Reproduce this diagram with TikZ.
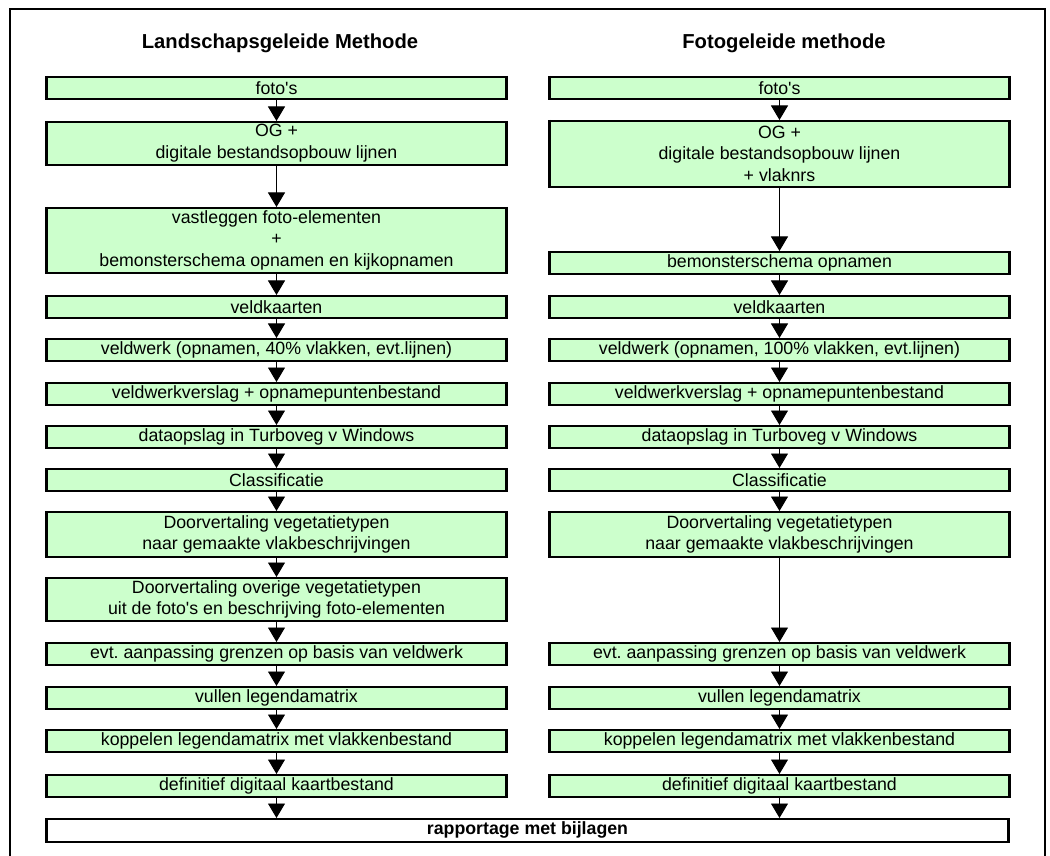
\documentclass[tikz,border=0pt]{standalone}
\usepackage{fontspec}
\setmainfont{Liberation Sans}[Ligatures=TeXOff]
\usepackage{xcolor}
\usetikzlibrary{arrows.meta}
\definecolor{lichtgroen}{HTML}{CCFFCC}
\frenchspacing

\tikzset{
  stap/.style={draw, fill=lichtgroen, line width=0.9pt, minimum width=9.16cm,
    minimum height=0.44cm, inner sep=0.5pt, align=center, anchor=north,
    font=\fontsize{10.1}{12.2}\selectfont},
  pijl/.style={line width=0.55pt, -{Triangle[width=0.34cm,length=0.29cm]}},
  kop/.style={font=\fontsize{11.5}{13}\selectfont\bfseries}
}

\begin{document}
\begin{tikzpicture}
    \useasboundingbox (0,0) rectangle (21,-17.12);

    % Draw the frame
    \draw[line width=1.1pt] (0.2,-17.5) -- (0.2,-0.18) -- (20.9,-0.18) -- (20.9,-17.5);

    % Add the titles
    \node[kop] (tl) at (5.6,-0.86) {Landschapsgeleide Methode};
    \node[kop] (tr) at (15.68,-0.86) {Fotogeleide methode};

    % Left column
    \node[stap] (l1) at (5.53,-1.52) {foto's};
    \node[stap, minimum height=0.86cm] (l2) at (5.53,-2.42) {OG +\\digitale bestandsopbouw lijnen};
    \node[stap, minimum height=1.30cm] (l3) at (5.53,-4.14) {vastleggen foto-elementen\\+\\bemonsterschema opnamen en kijkopnamen};
    \node[stap] (l4) at (5.53,-5.90) {veldkaarten};
    \node[stap] (l5) at (5.53,-6.76) {veldwerk (opnamen, 40\% vlakken, evt.lijnen)};
    \node[stap] (l6) at (5.53,-7.64) {veldwerkverslag + opnamepuntenbestand};
    \node[stap] (l7) at (5.53,-8.50) {dataopslag in Turboveg v Windows};
    \node[stap] (l8) at (5.53,-9.36) {Classificatie};
    \node[stap, minimum height=0.90cm] (l9) at (5.53,-10.22) {Doorvertaling vegetatietypen\\naar gemaakte vlakbeschrijvingen};
    \node[stap, minimum height=0.86cm] (l10) at (5.53,-11.54) {Doorvertaling overige vegetatietypen\\uit de foto's en beschrijving foto-elementen};
    \node[stap] (l11) at (5.53,-12.84) {evt. aanpassing grenzen op basis van veldwerk};
    \node[stap] (l12) at (5.53,-13.72) {vullen legendamatrix};
    \node[stap] (l13) at (5.53,-14.58) {koppelen legendamatrix met vlakkenbestand};
    \node[stap] (l14) at (5.53,-15.48) {definitief digitaal kaartbestand};

    % Right column
    \node[stap] (r1) at (15.59,-1.52) {foto's};
    \node[stap, minimum height=1.32cm] (r2) at (15.59,-2.40) {OG +\\digitale bestandsopbouw lijnen\\+ vlaknrs};
    \node[stap] (r3) at (15.59,-5.02) {bemonsterschema opnamen};
    \node[stap] (r4) at (15.59,-5.90) {veldkaarten};
    \node[stap] (r5) at (15.59,-6.76) {veldwerk (opnamen, 100\% vlakken, evt.lijnen)};
    \node[stap] (r6) at (15.59,-7.64) {veldwerkverslag + opnamepuntenbestand};
    \node[stap] (r7) at (15.59,-8.50) {dataopslag in Turboveg v Windows};
    \node[stap] (r8) at (15.59,-9.36) {Classificatie};
    \node[stap, minimum height=0.90cm] (r9) at (15.59,-10.22) {Doorvertaling vegetatietypen\\naar gemaakte vlakbeschrijvingen};
    \node[stap] (r11) at (15.59,-12.84) {evt. aanpassing grenzen op basis van veldwerk};
    \node[stap] (r12) at (15.59,-13.72) {vullen legendamatrix};
    \node[stap] (r13) at (15.59,-14.58) {koppelen legendamatrix met vlakkenbestand};
    \node[stap] (r14) at (15.59,-15.48) {definitief digitaal kaartbestand};

    % Final box
    \node[stap, fill=white, minimum width=19.22cm, minimum height=0.46cm,
      font=\fontsize{10.1}{12.2}\selectfont\bfseries] (eind) at (10.55,-16.36) {rapportage met bijlagen};

    % Thicker sides of the boxes
    \foreach \n in {l1,l2,l3,l4,l5,l6,l7,l8,l9,l10,l11,l12,l13,l14,
                    r1,r2,r3,r4,r5,r6,r7,r8,r9,r11,r12,r13,r14,eind} {
      \draw[line width=1.5pt] (\n.north west) -- (\n.south west);
      \draw[line width=1.5pt] (\n.north east) -- (\n.south east);
    }

    % Draw arrows
    \foreach \a/\b in {l1/l2,l2/l3,l3/l4,l4/l5,l5/l6,l6/l7,l7/l8,l8/l9,l9/l10,
                       l10/l11,l11/l12,l12/l13,l13/l14,
                       r1/r2,r2/r3,r3/r4,r4/r5,r5/r6,r6/r7,r7/r8,r8/r9,r9/r11,
                       r11/r12,r12/r13,r13/r14}
      \draw[pijl] (\a) -- (\b);
    \draw[pijl] (l14) -- (l14 |- eind.north);
    \draw[pijl] (r14) -- (r14 |- eind.north);
\end{tikzpicture}
\end{document}
